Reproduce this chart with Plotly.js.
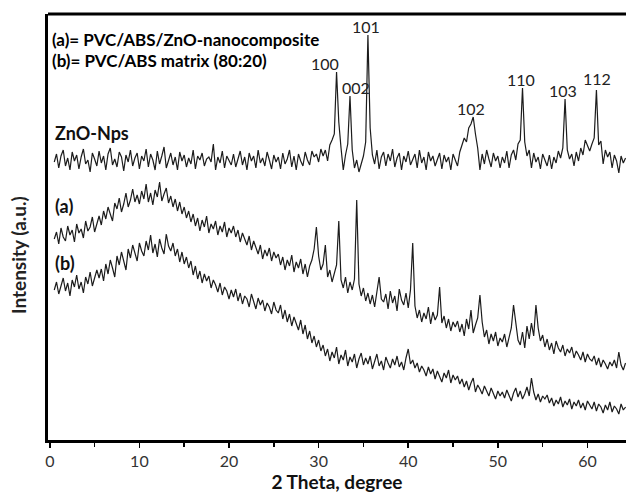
<!DOCTYPE html>
<html>
<head>
<meta charset="utf-8">
<script src="https://cdn.plot.ly/plotly-3.0.1.min.js"></script>
<style>html,body{margin:0;padding:0;background:#fff;}#chart{width:626px;height:497px;}</style>
</head>
<body>
<div id="chart"></div>
<script>
// 2 Theta (degree) scan points
const twoTheta = [
0.5,0.75,1,1.25,1.5,1.75,2,2.25,2.5,2.75,3,3.25,3.5,3.75,4,4.25,4.5,4.75,5,5.25,
5.5,5.75,6,6.25,6.5,6.75,7,7.25,7.5,7.75,8,8.25,8.5,8.75,9,9.25,9.5,9.75,10,10.25,
10.5,10.75,11,11.25,11.5,11.75,12,12.25,12.5,12.75,13,13.25,13.5,13.75,14,14.25,14.5,14.75,15,15.25,
15.5,15.75,16,16.25,16.5,16.75,17,17.25,17.5,17.75,18,18.25,18.5,18.75,19,19.25,19.5,19.75,20,20.25,
20.5,20.75,21,21.25,21.5,21.75,22,22.25,22.5,22.75,23,23.25,23.5,23.75,24,24.25,24.5,24.75,25,25.25,
25.5,25.75,26,26.25,26.5,26.75,27,27.25,27.5,27.75,28,28.25,28.5,28.75,29,29.25,29.5,29.75,30,30.25,
30.5,30.75,31,31.25,31.5,31.75,32,32.25,32.5,32.75,33,33.25,33.5,33.75,34,34.25,34.5,34.75,35,35.25,
35.5,35.75,36,36.25,36.5,36.75,37,37.25,37.5,37.75,38,38.25,38.5,38.75,39,39.25,39.5,39.75,40,40.25,
40.5,40.75,41,41.25,41.5,41.75,42,42.25,42.5,42.75,43,43.25,43.5,43.75,44,44.25,44.5,44.75,45,45.25,
45.5,45.75,46,46.25,46.5,46.75,47,47.25,47.5,47.75,48,48.25,48.5,48.75,49,49.25,49.5,49.75,50,50.25,
50.5,50.75,51,51.25,51.5,51.75,52,52.25,52.5,52.75,53,53.25,53.5,53.75,54,54.25,54.5,54.75,55,55.25,
55.5,55.75,56,56.25,56.5,56.75,57,57.25,57.5,57.75,58,58.25,58.5,58.75,59,59.25,59.5,59.75,60,60.25,
60.5,60.75,61,61.25,61.5,61.75,62,62.25,62.5,62.75,63,63.25,63.5,63.75,64,64.25
];

// ZnO-Nps pattern (offset intensity, a.u.)
const znoNps = [
278,286,272,284,290,274,282,270,288,279,285,271,283,291,276,280,268,287,281,274,
289,277,284,270,286,292,275,281,273,288,283,269,285,278,290,274,282,287,271,284,
279,291,273,286,280,270,289,276,284,293,272,281,287,275,283,270,288,279,285,273,
282,276,290,271,284,280,287,274,281,283,278,296,270,283,277,289,272,284,280,275,
286,273,281,289,275,283,270,287,279,284,272,290,277,282,274,288,280,271,285,278,
283,271,287,276,281,290,273,284,270,286,279,274,288,280,275,289,283,286,278,291,
284,290,279,295,300,306,368,318,292,270,285,296,344,290,272,280,268,276,284,298,
405,312,285,276,290,271,283,288,274,286,279,291,273,282,287,270,284,278,289,275,
281,286,272,290,277,283,270,288,279,284,274,281,287,271,285,278,283,270,286,280,
274,288,295,302,298,312,316,323,306,292,270,286,276,290,281,273,287,279,284,272,
283,277,289,272,285,290,280,296,300,352,298,284,290,272,287,278,283,271,286,279,
274,285,271,283,277,289,282,292,341,290,281,286,274,288,279,292,285,300,294,289,
296,302,350,295,299,276,290,283,288,272,285,279,267,284,277,282
];

// (a) PVC/ABS/ZnO-nanocomposite
const seriesA = [
201,208,196,212,203,199,214,205,210,198,216,207,211,202,219,209,213,223,208,217,
224,215,229,221,233,226,219,237,231,242,228,236,247,233,240,251,238,245,236,249,
241,256,238,247,235,250,243,258,239,246,252,237,244,233,241,229,238,226,233,222,
229,218,226,214,222,209,220,213,224,207,216,211,219,205,214,208,218,203,212,207,
214,203,210,198,207,201,195,204,190,199,193,186,195,181,190,184,192,179,188,182,
186,175,183,170,180,174,185,168,178,172,181,166,176,163,174,180,191,213,184,170,
176,195,163,170,158,166,175,219,160,152,163,147,158,150,161,240,156,144,152,139,
147,136,145,133,150,163,141,138,146,131,149,137,144,129,151,140,135,147,132,150,
197,134,122,130,118,127,121,133,116,128,120,125,153,117,124,112,121,109,118,113,
119,108,116,104,121,111,130,107,115,122,145,118,103,110,96,106,99,108,94,102,
98,106,93,104,112,135,116,100,95,108,92,114,101,117,104,135,112,99,105,93,
101,90,97,86,99,92,88,95,84,91,87,93,82,89,85,80,88,78,86,81,
79,84,75,82,73,80,76,71,78,74,80,72,88,75,70,77
];

// (b) PVC/ABS matrix (80:20)
const seriesB = [
150,158,146,155,162,149,157,144,160,153,165,151,158,147,163,156,168,154,161,170,
162,171,159,176,166,180,172,163,184,175,188,178,170,191,182,195,186,179,197,189,
184,199,190,205,187,196,183,201,192,186,206,194,189,197,184,191,178,188,176,183,
172,179,165,174,161,169,157,166,159,164,152,160,155,148,157,145,153,149,141,150,
143,151,139,147,136,144,141,133,146,138,131,142,135,140,129,137,133,126,138,130,
127,135,121,130,118,126,114,123,117,110,120,106,115,101,109,97,104,93,100,89,
95,84,91,79,88,82,93,76,85,80,90,74,83,78,86,72,81,87,75,82,
76,84,71,80,86,74,79,70,83,77,72,81,75,84,73,78,70,82,91,76,
80,72,77,68,74,70,64,73,66,71,61,69,64,58,67,62,70,57,65,60,
64,56,61,53,59,50,57,62,48,55,51,46,54,49,44,52,47,41,49,44,
48,42,50,45,39,47,52,43,49,41,46,53,44,62,48,40,46,38,44,41,
45,37,42,34,40,36,43,33,39,35,41,31,38,34,40,32,37,30,39,35,
31,38,29,36,33,27,35,30,38,28,34,31,26,36,30,33
];

// Miller indices of ZnO reflections
const peakLabels = ['100','002','101','102','110','103','112'];
const peakLabelX = [30.7,34.2,35.3,47.0,52.6,57.3,61.1];
const peakLabelY = [377,353,414,332,361,350,362];

const seriesNames = ['ZnO-Nps','(a)','(b)'];
const legendLines = ['(a)= PVC/ABS/ZnO-nanocomposite','(b)= PVC/ABS matrix (80:20)'];

const lineStyle = {color:'#1c1c1c', width:1.2};
const traces = [znoNps, seriesA, seriesB].map((ys, k) => ({
  type:'scatter', mode:'lines', x: twoTheta, y: ys, name: seriesNames[k],
  line: lineStyle, hoverinfo:'skip'
}));

const FONT = 'Lato, "Open Sans", sans-serif';
const annotations = [];
peakLabels.forEach((t,i) => annotations.push({
  text:t, x:peakLabelX[i], y:peakLabelY[i], xref:'x', yref:'y', showarrow:false,
  font:{family:FONT, size:16, color:'#222'}
}));
legendLines.forEach((t,i) => annotations.push({
  text:'<b>'+t+'</b>', x:0.02, y:[401,380][i], xref:'x', yref:'y', xanchor:'left', showarrow:false,
  font:{family:FONT, size:17, color:'#000'}
}));
annotations.push({text:'<b>ZnO-Nps</b>', x:0.36, y:307, xref:'x', yref:'y', xanchor:'left', showarrow:false, font:{family:FONT, size:18, color:'#111'}});
annotations.push({text:'<b>(a)</b>', x:0.36, y:234, xref:'x', yref:'y', xanchor:'left', showarrow:false, font:{family:FONT, size:18, color:'#111'}});
annotations.push({text:'<b>(b)</b>', x:0.36, y:177, xref:'x', yref:'y', xanchor:'left', showarrow:false, font:{family:FONT, size:18, color:'#111'}});
annotations.push({text:'<b>Intensity (a.u.)</b>', textangle:-90, xref:'paper', yref:'paper',
  x:-0.052, y:0.434, xanchor:'center', yanchor:'middle', showarrow:false, font:{family:FONT, size:19, color:'#222'}});

const layout = {
  width:626, height:497,
  margin:{l:48, r:0, t:14, b:57},
  paper_bgcolor:'#fff', plot_bgcolor:'#fff',
  showlegend:false,
  font:{family:FONT},
  xaxis:{
    range:[-0.2,64.3], showgrid:false, zeroline:false,
    showline:true, linecolor:'#000', linewidth:3,
    ticks:'outside', ticklen:5, tickwidth:1.5, tickcolor:'#000',
    tick0:0, dtick:10,
    minor:{dtick:5, ticks:'outside', ticklen:4, tickwidth:1.5, tickcolor:'#000'},
    tickfont:{family:FONT, size:16, color:'#333'},
    title:{text:'<b>2 Theta, degree</b>', font:{family:FONT, size:19, color:'#111'}, standoff:6}
  },
  yaxis:{
    range:[0,426], showgrid:false, zeroline:false, showticklabels:false, ticks:'',
    showline:true, linecolor:'#000', linewidth:3
  },
  shapes:[{type:'line', xref:'paper', yref:'paper', x0:0, x1:1, y0:1, y1:1, line:{color:'#000', width:3}}],
  annotations: annotations
};

Plotly.newPlot('chart', traces, layout, {staticPlot:true, displayModeBar:false});
</script>
</body>
</html>
